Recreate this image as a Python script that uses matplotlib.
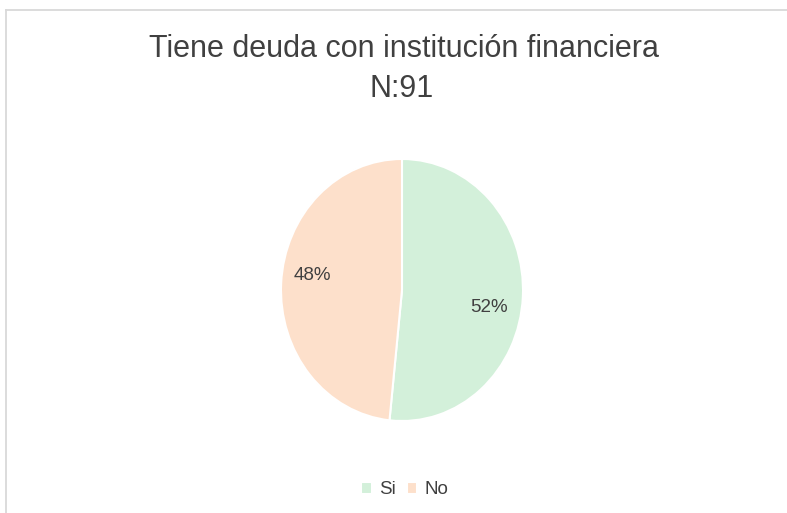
import matplotlib
matplotlib.use("Agg")
import matplotlib.pyplot as plt
from matplotlib.lines import Line2D

plt.rcParams['font.family'] = ['Liberation Sans', 'DejaVu Sans']

# datos
categorias = ["Si", "No"]
conteos = [47, 44]
colores = ["#D3F0DA", "#FDE0CB"]
titulo = "Tiene deuda con institución financiera"
subtitulo = "N:91"
texto_color = "#404040"

W, H = 787, 513
fig = plt.figure(figsize=(W / 100, H / 100), dpi=100)

# marco del grafico (solo izquierda y arriba visibles)
borde = "#D9D9D9"
fig.add_artist(Line2D([6 / W, 6 / W], [0, 1 - 10 / H], transform=fig.transFigure,
                      color=borde, lw=1.3))
fig.add_artist(Line2D([6 / W, 1], [1 - 10 / H, 1 - 10 / H], transform=fig.transFigure,
                      color=borde, lw=1.3))

# ejes del pie, un poco ovalado como en la imagen
cx, cy, rx, ry = 402, 290, 121, 131
ax = fig.add_axes([(cx - rx) / W, (H - cy - ry) / H, 2 * rx / W, 2 * ry / H])
wedges, textos, pct = ax.pie(conteos, colors=colores, startangle=90,
                             counterclock=False, radius=1,
                             autopct=lambda p: f"{p:.0f}%",
                             wedgeprops=dict(edgecolor="white", linewidth=1.5),
                             textprops=dict(color=texto_color, fontsize=13.5))
ax.set_aspect('auto')
ax.set_xlim(-1, 1)
ax.set_ylim(-1, 1)
for w in wedges:
    w.set_clip_on(False)

# posiciones de etiquetas como en excel
pct[0].set_position((0.72, -0.13))
pct[1].set_position((-0.74, 0.11))

fig.text(403.5 / W, 1 - 49 / H, titulo, ha='center', va='center',
         fontsize=22, color=texto_color)
fig.text(402 / W, 1 - 89 / H, subtitulo, ha='center', va='center',
         fontsize=22, color=texto_color)

fig.legend(wedges, categorias, loc='center', bbox_to_anchor=(405 / W, 1 - 490 / H),
           ncol=2, frameon=False, fontsize=13.5, labelcolor=texto_color,
           handlelength=0.55, handleheight=0.55, handletextpad=0.4,
           columnspacing=0.6)

fig.savefig("out.png", dpi=100)
